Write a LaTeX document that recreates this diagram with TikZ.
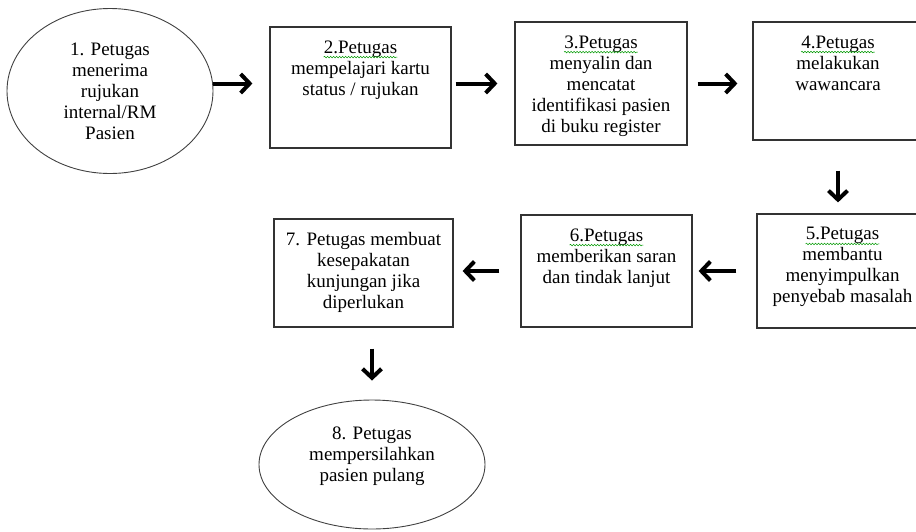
\documentclass[tikz,border=0pt]{standalone}
\usepackage{fontspec}
\setmainfont{Liberation Serif}
\usetikzlibrary{arrows.meta,shapes.geometric,decorations.pathmorphing}

\newcommand{\boxtext}[3]{\parbox[c][#2][t]{#1}{\centering #3}}
\newcommand{\spellmark}[1]{\tikz[baseline=(sw.base)]{\node[inner sep=0pt] (sw) {#1};
  \draw[green!60!black, line width=0.5pt, decorate, decoration={snake, segment length=3pt, amplitude=0.8pt}]
    ([yshift=-4pt]sw.base west) -- ([yshift=-4pt]sw.base east);}}

\begin{document}
\begin{tikzpicture}[x=1pt, y=-1pt,
  every node/.style={font=\fontsize{19}{21}\selectfont},
  stepbox/.style={draw=black!80, line width=1.2pt, inner xsep=0pt, inner ysep=13.5pt},
  stepoval/.style={ellipse, draw=black!75, line width=0.9pt, inner sep=0pt, align=center},
  flow/.style={line width=4pt, -{Straight Barb[length=9pt,width=19pt,line width=4pt]}}]
\useasboundingbox (0,0) rectangle (916,531);
\node [stepoval, minimum width=206pt, minimum height=165pt] (n1) at (110,91)
  {1. Petugas\\menerima\\rujukan\\internal/RM\\Pasien};
\node [stepbox] (n2) at (360.5,87.5)
  {\boxtext{181pt}{94pt}{\spellmark{2.Petugas}\\mempelajari kartu\\status / rujukan}};
\node [stepbox] (n3) at (601,83.5)
  {\boxtext{172pt}{96pt}{\spellmark{3.Petugas}\\menyalin dan\\mencatat\\identifikasi pasien\\di buku register}};
\node [stepbox] (n4) at (838,81)
  {\boxtext{170pt}{91pt}{\spellmark{4.Petugas}\\melakukan\\wawancara}};
\node [stepbox] (n5) at (842.5,271)
  {\boxtext{171pt}{87pt}{\spellmark{5.Petugas}\\membantu\\menyimpulkan\\penyebab masalah}};
\node [stepbox] (n6) at (606.5,271)
  {\boxtext{171pt}{85pt}{\spellmark{6.Petugas}\\memberikan saran\\dan tindak lanjut}};
\node [stepbox] (n7) at (363.5,273)
  {\boxtext{179pt}{81pt}{7. Petugas membuat\\kesepakatan\\kunjungan jika\\diperlukan}};
\node [stepoval, minimum width=226pt, minimum height=129pt] (n8) at (372,464.5)
  {8. Petugas\\mempersilahkan\\pasien pulang\\ \mbox{}};
\draw [flow, shorten >=17pt] (n1.east |- n3) -- (n2.west |- n3);
\draw [flow, shorten <=4pt, shorten >=17pt] (n2.east |- n3) -- (n3.west);
\draw [flow, shorten <=10pt, shorten >=15pt] (n3.east) -- (n4.west |- n3);
\draw [flow, shorten <=30pt, shorten >=11pt] (n4.south) -- (n4.south |- n5.north);
\draw [flow, shorten <=20pt, shorten >=6pt] (n5.west) -- (n6.east);
\draw [flow, shorten <=21pt, shorten >=9pt] (n6.west) -- (n7.east |- n6);
\draw [flow, shorten <=21pt, shorten >=19pt] (n8.north |- n7.south) -- (n8.north);
\end{tikzpicture}
\end{document}
